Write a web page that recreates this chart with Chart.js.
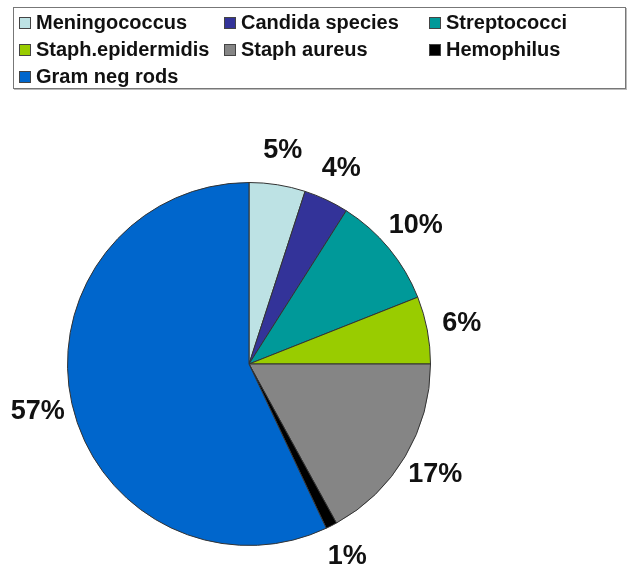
<!DOCTYPE html>
<html>
<head>
<meta charset="utf-8">
<script src="https://cdn.jsdelivr.net/npm/chart.js@4.4.1/dist/chart.umd.min.js"></script>
<style>
  body { margin: 0; background: #fff; }
  #wrap { position: relative; width: 629px; height: 565px; }
  #pieChart { position: absolute; left: 0; top: 0; }
  #legend {
    position: absolute; left: 13px; top: 7px; width: 611px; height: 80px;
    border: 1px solid #777; box-shadow: 1px 1px 0 #bbb;
    font: bold 20px "Liberation Sans", Arial, sans-serif; color: #111;
  }
  .item { position: absolute; height: 27px; line-height: 27px; white-space: nowrap; }
  .box {
    display: inline-block; width: 10px; height: 10px; border: 1px solid #444;
    margin-right: 5px; vertical-align: 0px;
  }
</style>
</head>
<body>
<div id="wrap">
  <canvas id="pieChart" width="629" height="565"></canvas>
  <div id="legend"></div>
</div>
<script>
// chart data
const labels = ['Meningococcus', 'Candida species', 'Streptococci', 'Staph.epidermidis', 'Staph aureus', 'Hemophilus', 'Gram neg rods'];
const values = [5, 4, 10, 6, 17, 1, 57];
const colors = ['#bde2e4', '#333399', '#009999', '#99cc00', '#858585', '#000000', '#0066cc'];

// legend in 3 columns like the original
const legendDiv = document.getElementById('legend');
labels.forEach(function (label, i) {
    const item = document.createElement('div');
    item.className = 'item';
    item.style.left = (5 + (i % 3) * 205) + 'px';
    item.style.top = (1 + Math.floor(i / 3) * 27) + 'px';
    item.innerHTML = '<span class="box" style="background:' + colors[i] + '"></span>' + label;
    legendDiv.appendChild(item);
});

// percent labels outside the slices
const outsideLabels = {
    id: 'outsideLabels',
    afterDatasetsDraw(chart) {
        const ctx = chart.ctx;
        const meta = chart.getDatasetMeta(0);
        ctx.save();
        ctx.font = 'bold 27px "Liberation Sans", Arial, sans-serif';
        ctx.fillStyle = '#111';
        ctx.textAlign = 'center';
        ctx.textBaseline = 'middle';
        meta.data.forEach(function (arc, i) {
            const p = arc.getProps(['x', 'y', 'startAngle', 'endAngle', 'outerRadius'], true);
            const mid = (p.startAngle + p.endAngle) / 2;
            const r = p.outerRadius + 35;
            ctx.fillText(values[i] + '%', p.x + Math.cos(mid) * r, p.y + Math.sin(mid) * r);
        });
        ctx.restore();
    }
};

const ctx = document.getElementById('pieChart').getContext('2d');
const myChart = new Chart(ctx, {
    type: 'pie',
    data: {
        labels: labels,
        datasets: [{
            data: values,
            backgroundColor: colors,
            borderColor: '#333',
            borderWidth: 1
        }]
    },
    options: {
        responsive: false,
        animation: false,
        layout: {
            padding: { left: 67, top: 182, right: 198, bottom: 19 }
        },
        plugins: {
            legend: { display: false },
            tooltip: { enabled: false }
        }
    },
    plugins: [outsideLabels]
});
</script>
</body>
</html>
